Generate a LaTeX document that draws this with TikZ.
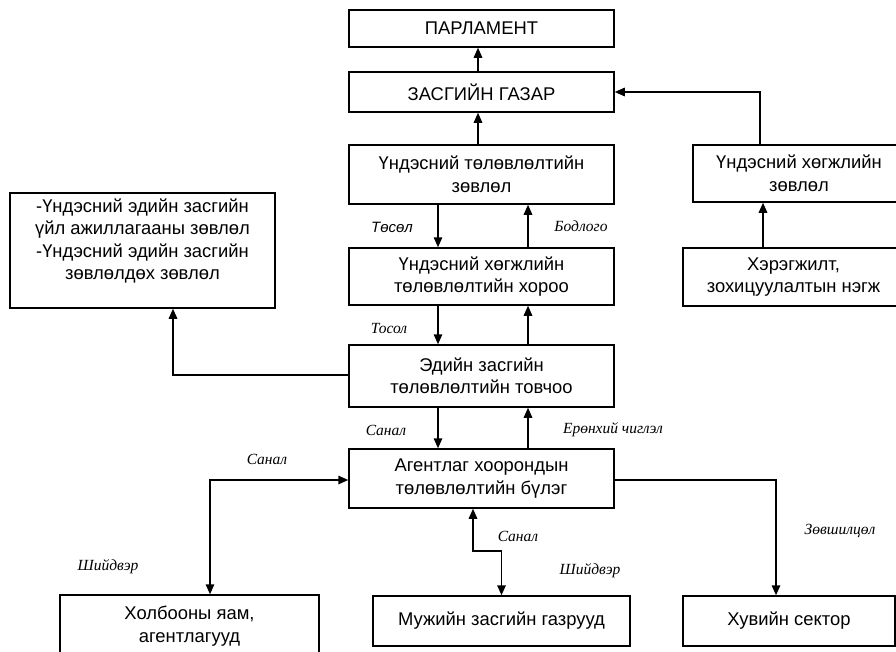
\documentclass[tikz,border=0pt]{standalone}
\usepackage{fontspec}
\setmainfont{Liberation Sans}
\newfontfamily\lblserif{Liberation Serif}
\usetikzlibrary{arrows.meta,positioning,calc}
\begin{document}
\begin{tikzpicture}[x=1pt,y=-1pt,
  box/.style={draw,line width=1.5pt,minimum width=265pt,inner sep=0pt,align=center,
    font=\fontsize{18.4}{22.5}\selectfont},
  txt/.style={inner sep=0pt,align=center,font=\fontsize{18.4}{22.5}\selectfont},
  lbl/.style={inner sep=0pt,font=\lblserif\itshape\fontsize{15.5}{17}\selectfont},
  lbls/.style={inner sep=0pt,font=\itshape\fontsize{15}{17}\selectfont},
  conn/.style={line width=1.5pt,-{Triangle[length=10pt,width=8.5pt]}},
  conn2/.style={line width=1.5pt,{Triangle[length=10pt,width=8.5pt]}-{Triangle[length=10pt,width=8.5pt]}}]
\useasboundingbox[fill=white] (0,0) rectangle (896,651);
% boxes
\node[box,minimum height=37pt] (parl) at (481.5,28.5) {ПАРЛАМЕНТ};
\node[box,minimum height=40pt] (gov) at (481.5,92) {ЗАСГИЙН ГАЗАР};
\node[box,minimum height=59pt] (ntz) at (481.5,174.5) {Үндэсний төлөвлөлтийн\\зөвлөл};
\node[box,minimum height=57pt] (nhtx) at (481.5,276.5) {Үндэсний хөгжлийн\\төлөвлөлтийн хороо};
\node[box,minimum height=62pt] (ezt) at (481.5,376) {Эдийн засгийн\\төлөвлөлтийн товчоо};
\node[box,minimum height=59pt] (ahtb) at (481.5,478.5) {Агентлаг хоорондын\\төлөвлөлтийн бүлэг};
\node[box,minimum height=115pt] (lbox) at (142.5,250.5) {};
\node[txt] (ltxt) at (142.5,241) {-Үндэсний эдийн засгийн\\үйл ажиллагааны зөвлөл\\-Үндэсний эдийн засгийн\\зөвлөлдөх зөвлөл};
\node[box,minimum width=212pt,minimum height=57pt] (r1) at (799,173.5) {Үндэсний хөгжлийн\\зөвлөл};
\node[box,minimum width=221pt,minimum height=58pt] (r2) at (793.5,277) {Хэрэгжилт,\\зохицуулалтын нэгж};
\node[box,minimum width=259pt,minimum height=62pt] (hol) at (189.5,626) {Холбооны яам,\\агентлагууд};
\node[box,minimum width=257pt,minimum height=50pt] (muj) at (501.5,621) {Мужийн засгийн газрууд};
\node[box,minimum width=212pt,minimum height=50pt] (huv) at (789,621) {Хувийн сектор};
% vertical chain
\draw[conn] ([xshift=-3.5]gov.north) -- ([xshift=-3.5]parl.south);
\draw[conn] ([xshift=-3.5]ntz.north) -- ([xshift=-3.5]gov.south);
\draw[conn] ([xshift=-43.5]ntz.south) -- ([xshift=-43.5]nhtx.north);
\draw[conn] ([xshift=46.5]nhtx.north) -- ([xshift=46.5]ntz.south);
\draw[conn] ([xshift=-43.5]nhtx.south) -- ([xshift=-43.5]ezt.north);
\draw[conn] ([xshift=46.5]ezt.north) -- ([xshift=46.5]nhtx.south);
\draw[conn] ([xshift=-43.5]ezt.south) -- ([xshift=-43.5]ahtb.north);
\draw[conn] ([xshift=46.5]ahtb.north) -- ([xshift=46.5]ezt.south);
% left
\draw[conn] ([yshift=1]ezt.west) -| ([xshift=30.5]lbox.south);
% right
\draw[conn] ([xshift=-39]r1.north) |- (gov.east);
\draw[conn] ([xshift=-30.5]r2.north) coordinate (p) -- (p |- r1.south);
% bottom
\draw[conn2] ([yshift=-1.5]ahtb.west) -| ([xshift=20.5]hol.north);
\draw[conn2] ([xshift=-8.5]ahtb.south) -- ++(0,42) coordinate (q) -| (muj.north);
\draw[conn] ([yshift=-1.5]ahtb.east) -| ([xshift=-13]huv.north);
% labels
\node[lbls] (l1) at (392,227) {Төсөл};
\node[lbl] (l2) at (581,226) {Бодлого};
\node[lbl] (l3) at (389,328) {Тосол};
\node[lbl] (l4) at (386,430) {Санал};
\node[lbl] (l5) at (613,430) {Ерөнхий чиглэл};
\node[lbl] (l6) at (267,459) {Санал};
\node[lbl] (l7) at (108,567) {Шийдвэр};
\node[lbl] (l8) at (518,536) {Санал};
\node[lbl] (l9) at (590,571) {Шийдвэр};
\node[lbl] (l10) at (840,531) {Зөвшилцөл};
\end{tikzpicture}
\end{document}
